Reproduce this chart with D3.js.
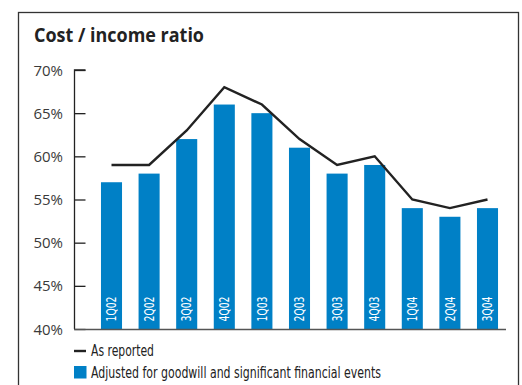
<!DOCTYPE html>
<html>
<head>
<meta charset="utf-8">
<script src="https://cdn.jsdelivr.net/npm/d3@7"></script>
<style>
  html, body { margin: 0; padding: 0; background: #fff; }
  svg { display: block; }
</style>
</head>
<body>
<script>
// Quarterly cost / income ratio (%)
const quarters = ["1Q02","2Q02","3Q02","4Q02","1Q03","2Q03","3Q03","4Q03","1Q04","2Q04","3Q04"];
const asReported = [59, 59, 63, 68, 66, 62, 59, 60, 55, 54, 55];
const adjusted   = [57, 58, 62, 66, 65, 61, 58, 59, 54, 53, 54];
const yTicks = [40, 45, 50, 55, 60, 65, 70];

const W = 522, H = 385;
const blue = "#0080c6";
const condensed = "'Liberation Sans Narrow', 'DejaVu Sans Condensed', 'Arial Narrow', sans-serif";
const plain = "'Open Sans', 'Noto Sans', sans-serif";

const svg = d3.select("body").append("svg")
  .attr("width", W).attr("height", H);

// outer frame
svg.append("rect")
  .attr("x", 18.5).attr("y", 12.5)
  .attr("width", 500).attr("height", 400)
  .attr("fill", "none").attr("stroke", "#333").attr("stroke-width", 1.3);

svg.append("text")
  .attr("x", 34).attr("y", 42)
  .attr("font-family", plain).attr("font-weight", 700)
  .attr("font-size", 19).attr("fill", "#222")
  .attr("textLength", 170).attr("lengthAdjust", "spacingAndGlyphs")
  .text("Cost / income ratio");

const y = d3.scaleLinear().domain([40, 70]).range([329, 70]);
const x = d3.scaleBand().domain(quarters)
  .range([92.7, 506.3]).paddingInner(0.44).paddingOuter(0.22);

// bars
svg.append("g").selectAll("rect").data(quarters).join("rect")
  .attr("x", d => x(d))
  .attr("width", x.bandwidth())
  .attr("y", (d, i) => y(adjusted[i]))
  .attr("height", (d, i) => y(40) - y(adjusted[i]))
  .attr("fill", blue);

// quarter labels inside bars
svg.append("g").selectAll("text").data(quarters).join("text")
  .attr("transform", d => `translate(${x(d) + x.bandwidth() / 2 + 4.6},${y(40) - 7.5}) rotate(-90)`)
  .attr("font-family", condensed).attr("font-size", 13.5)
  .attr("fill", "#fff")
  .attr("textLength", 25).attr("lengthAdjust", "spacingAndGlyphs")
  .text(d => d);

// y axis
const yAxis = d3.axisRight(y).tickValues(yTicks).tickSize(11).tickFormat("");
const gy = svg.append("g").attr("transform", "translate(74.5,0)").call(yAxis);
gy.select(".domain").attr("stroke", "#222").attr("stroke-width", 1.3)
  .attr("d", `M11,${y(70)}H0V${y(40)}`);
gy.selectAll(".tick line").attr("stroke", "#222").attr("stroke-width", 1.3);

svg.append("g").selectAll("text").data(yTicks).join("text")
  .attr("x", 63).attr("y", d => y(d) + 5.5)
  .attr("text-anchor", "end")
  .attr("font-family", plain).attr("font-size", 15)
  .attr("fill", "#3a3a3a")
  .text(d => d + "%");

// baseline
const xAxis = d3.axisBottom(x).tickSize(0).tickFormat("");
const gx = svg.append("g").attr("transform", `translate(0,${y(40) + 0.5})`).call(xAxis);
gx.select(".domain").attr("stroke", "#555").attr("stroke-width", 1.3)
  .attr("d", `M74,0H506`);

// as-reported line
const line = d3.line()
  .x((d, i) => x(quarters[i]) + x.bandwidth() / 2)
  .y(d => y(d));
svg.append("path").datum(asReported)
  .attr("d", line)
  .attr("fill", "none").attr("stroke", "#222")
  .attr("stroke-width", 2.4).attr("stroke-linejoin", "miter");

// legend
const lg = svg.append("g").attr("font-family", condensed).attr("font-size", 15).attr("fill", "#222");
lg.append("line").attr("x1", 74).attr("x2", 86).attr("y1", 351).attr("y2", 351)
  .attr("stroke", "#222").attr("stroke-width", 2.4);
lg.append("text").attr("x", 91).attr("y", 356)
  .attr("textLength", 63).attr("lengthAdjust", "spacingAndGlyphs")
  .text("As reported");
lg.append("rect").attr("x", 74).attr("y", 366).attr("width", 12.5).attr("height", 12.5).attr("fill", blue);
lg.append("text").attr("x", 91).attr("y", 377.5)
  .attr("textLength", 290).attr("lengthAdjust", "spacingAndGlyphs")
  .text("Adjusted for goodwill and significant financial events");
</script>
</body>
</html>
